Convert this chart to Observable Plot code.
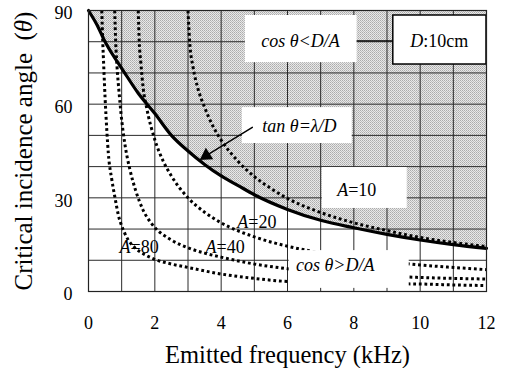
<!DOCTYPE html>
<html><head><meta charset="utf-8">
<script src="https://cdn.jsdelivr.net/npm/d3@7"></script>
<script src="https://cdn.jsdelivr.net/npm/@observablehq/plot@0.6"></script>
<style>body{margin:0;background:#fff} svg{display:block}</style>
</head><body><div id="chart"></div>
<script>
// ---- data (frequency kHz, angle degrees) ----
const xTicks = [0, 2, 4, 6, 8, 10, 12];
const yTicks = [0, 30, 60, 90];
const xGrid = [0, 1, 2, 3, 4, 5, 6, 7, 8, 9, 10, 11, 12];
const yGrid = [0, 10, 20, 30, 40, 50, 60, 70, 80, 90];

// solid curve: tan θ = λ/D
const critFreq  = [0, 0.25, 0.5, 0.75, 1, 1.5, 2, 2.5, 3, 3.5, 4, 4.5, 5, 6, 7, 8, 9, 10, 11, 12];
const critAngle = [90, 85.5, 80, 75.5, 71.5, 63.5, 57, 50, 45, 40.7, 37, 34, 31, 26.3, 22.8, 20.4, 18.3, 16.5, 15, 13.8];

// dotted curves, A = 10, 20, 40, 80
const a10Freq  = [3.0, 3.05, 3.15, 3.3, 3.5, 3.75, 4, 4.5, 5, 5.5, 6, 7, 8, 9, 10, 11, 12];
const a10Angle = [90, 80, 72, 65, 59, 53, 48.5, 41.8, 36.8, 33, 29.8, 25.3, 22, 19.5, 17.3, 15.7, 14.4];
const a20Freq  = [1.5, 1.53, 1.58, 1.65, 1.75, 2, 2.25, 2.5, 3, 3.5, 4, 5, 6, 7, 8, 9, 10, 11, 12];
const a20Angle = [90, 80, 73, 65, 59, 48.6, 41.8, 37, 30, 25.4, 22, 17.5, 14.5, 12.4, 10.8, 9.6, 8.5, 7.7, 7];
const a40Freq  = [0.79, 0.82, 0.86, 0.92, 0.98, 1.1, 1.25, 1.42, 1.65, 1.92, 2.5, 3, 3.5, 4, 5, 6, 7, 8, 9, 10, 11, 12];
const a40Angle = [90, 80, 72, 64, 57, 47, 39, 32.4, 26, 21.5, 16.5, 14, 12.3, 11, 8.8, 7.3, 6.2, 5.4, 4.9, 4.5, 4.2, 4.0];
const a80Freq  = [0.4, 0.43, 0.46, 0.5, 0.55, 0.6, 0.7, 0.8, 0.9, 1, 1.1, 1.2, 1.4, 1.7, 2, 2.5, 3, 4, 5, 6, 7, 8, 9, 10, 11, 12];
const a80Angle = [90, 80, 72, 62, 52, 44, 36, 30, 24.5, 21, 18.5, 16.5, 14, 11.8, 10.3, 8.8, 7.7, 5.6, 4.2, 3.2, 2.9, 2.7, 2.5, 2.4, 2.1, 1.9];

// annotation boxes (data coordinates)
const boxes = [
  {x1: 4.73, x2: 8.10, y1: 73.3, y2: 88.4},   // cos θ<D/A
  {x1: 4.64, x2: 7.95, y1: 47.4, y2: 58.9},   // tan θ=λ/D
  {x1: 7.05, x2: 9.61, y1: 26.6, y2: 39.7},   // A=10
  {x1: 6.05, x2: 9.67, y1: 1.0,  y2: 13.1}    // cos θ>D/A
];
const dBox = [{x1: 9.19, x2: 12, y1: 72.7, y2: 88.4}];
const connector = [{x1: 8.10, x2: 9.19, y: 80.3}];
const arrowSpec = [{x1: 4.94, y1: 52.6, x2: 3.50, y2: 43.2}];
const arrowHead = [{x: 3.55, y: 43.5, angle: 237}];

const italicLabels = [
  {x: 6.39, y: 80.1, text: "cos θ<D/A"},
  {x: 6.36, y: 52.8, text: "tan θ=λ/D"},
  {x: 7.44, y: 8.3,  text: "cos θ>D/A"}
];
const aLabels = [
  {x: 7.83, y: 32.4, rest: "=10"},
  {x: 4.82, y: 22.1, rest: "=20"},
  {x: 3.86, y: 14.1, rest: "=40"},
  {x: 1.27, y: 14.1, rest: "=80"}
];
const dLabel = [{x: 10.09, y: 80.1}];

const toRows = (fs, as) => fs.map((f, i) => ({f, theta: as[i]}));
const crit = toRows(critFreq, critAngle);
const dotted = [toRows(a10Freq, a10Angle), toRows(a20Freq, a20Angle), toRows(a40Freq, a40Angle), toRows(a80Freq, a80Angle)];

const serif = "'Liberation Serif', 'Times New Roman', serif";
const fs = 18;

const plot = Plot.plot({
  width: 507,
  height: 368,
  marginLeft: 88,
  marginRight: 21,
  marginTop: 10,
  marginBottom: 77,
  style: {fontFamily: serif, background: "white", color: "black"},
  x: {domain: [0, 12]},
  y: {domain: [0, 90]},
  marks: [
    Plot.areaY(crit, {x: "f", y1: "theta", y2: 90, fill: "url(#shade)", curve: "monotone-x"}),
    Plot.ruleX(xGrid, {stroke: "#2a2a2a", strokeWidth: 1}),
    Plot.ruleY(yGrid, {stroke: "#2a2a2a", strokeWidth: 1}),
    ...dotted.map(d => Plot.line(d, {x: "f", y: "theta", stroke: "black", strokeWidth: 3, strokeDasharray: "2.8,2.8", strokeLinecap: "butt", strokeLinejoin: "miter", curve: "monotone-x"})),
    Plot.line(crit, {x: "f", y: "theta", stroke: "black", strokeWidth: 3.2, curve: "monotone-x"}),
    Plot.rect(boxes, {x1: "x1", x2: "x2", y1: "y1", y2: "y2", fill: "white"}),
    Plot.ruleY(connector, {x1: "x1", x2: "x2", y: "y", stroke: "black", strokeWidth: 1.2}),
    Plot.rect(dBox, {x1: "x1", x2: "x2", y1: "y1", y2: "y2", fill: "white", stroke: "black", strokeWidth: 1.5}),
    Plot.arrow(arrowSpec, {x1: "x1", y1: "y1", x2: "x2", y2: "y2", stroke: "black", strokeWidth: 1.5, headLength: 0}),
    Plot.dot(arrowHead, {x: "x", y: "y", symbol: "triangle2", r: 6.5, rotate: "angle", fill: "black", stroke: "none"}),
    Plot.frame({stroke: "#222", strokeWidth: 1.2}),
    Plot.text(italicLabels, {x: "x", y: "y", text: "text", fontStyle: "italic", fontSize: fs, fontFamily: serif, fill: "black"}),
    Plot.text(aLabels, {x: "x", y: "y", text: () => "A", textAnchor: "end", fontStyle: "italic", fontSize: fs, fontFamily: serif, fill: "black"}),
    Plot.text(aLabels, {x: "x", y: "y", text: "rest", textAnchor: "start", fontSize: fs, fontFamily: serif, fill: "black"}),
    Plot.text(dLabel, {x: "x", y: "y", text: () => "D", textAnchor: "end", fontStyle: "italic", fontSize: fs, fontFamily: serif, fill: "black"}),
    Plot.text(dLabel, {x: "x", y: "y", text: () => ":10cm", textAnchor: "start", fontSize: fs, fontFamily: serif, fill: "black"}),
    Plot.axisX(xTicks, {tickSize: 0, tickPadding: 25, fontSize: fs, fontFamily: serif, label: null}),
    Plot.axisY(yTicks, {tickSize: 0, tickPadding: 16, fontSize: fs, fontFamily: serif, label: null, dy: 3}),
    Plot.text([0], {frameAnchor: "bottom", dy: 64, lineAnchor: "middle", textAnchor: "middle", text: () => "Emitted frequency (kHz)", fontSize: 24.5, fontFamily: serif, fill: "black"}),
    Plot.text([0], {frameAnchor: "left", dx: -65, rotate: -90, lineAnchor: "middle", textAnchor: "middle", text: () => "Critical incidence angle\u00a0\u00a0(θ)", fontSize: 25, fontFamily: serif, fill: "black"})
  ]
});

// fine dotted grey texture for the shaded region
const svg = d3.select(plot);
const pat = svg.insert("defs", ":first-child").append("pattern")
  .attr("id", "shade").attr("patternUnits", "userSpaceOnUse").attr("width", 2).attr("height", 2);
pat.append("rect").attr("width", 2).attr("height", 2).attr("fill", "#e8e8e8");
pat.append("rect").attr("width", 1).attr("height", 1).attr("fill", "#ababab");
pat.append("rect").attr("x", 1).attr("y", 1).attr("width", 1).attr("height", 1).attr("fill", "#bdbdbd");

// italic θ inside the y title
svg.selectAll("text").each(function () {
  const t = d3.select(this);
  const s = this.textContent;
  if (s.startsWith("Critical")) {
    t.text(null);
    t.append("tspan").text("Critical incidence angle\u00a0\u00a0(");
    t.append("tspan").attr("font-style", "italic").text("θ");
    t.append("tspan").text(")");
  }
});

document.getElementById("chart").appendChild(plot);
</script>
</body></html>
